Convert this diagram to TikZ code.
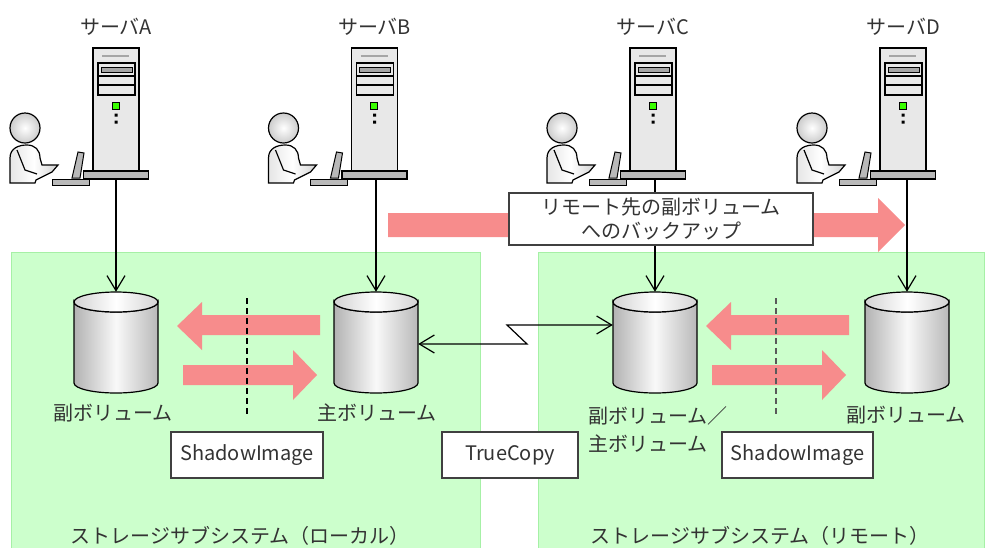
\documentclass[tikz,border=0pt]{standalone}
\usepackage{fontspec}
\setmainfont{Noto Sans CJK JP}
\usetikzlibrary{arrows.meta,positioning}

\definecolor{copyred}{HTML}{F78C8C}
\definecolor{boxgreen}{HTML}{CCFFCC}
\definecolor{boxedge}{HTML}{A6F0A6}
\definecolor{txtgray}{HTML}{333333}

\begin{document}
\begin{tikzpicture}[
    x=1pt, y=-1pt,
    >={Straight Barb[length=15pt,width=18pt]},
    every node/.style={font=\fontsize{20}{24}\selectfont, text=txtgray, inner sep=0pt},
    site/.style={fill=boxgreen, draw=boxedge, line width=1pt},
    fat/.style={fill=copyred},
    link/.style={line width=1.2pt},
    split/.style={line width=1.3pt, dash pattern=on 6pt off 4pt},
    tag/.style={draw=black!75, fill=white, line width=1.5pt, minimum height=46pt},
    vol/.style={minimum width=84pt, minimum height=101pt},
    baseplate/.style={draw, fill=gray!55, line width=1.2pt, minimum width=65pt, minimum height=8pt},
    pics/server/.style={code={
      % tower
      \filldraw[fill=gray!18, line width=1.3pt] (-23,-123) rectangle (23,0);
      \draw[gray!70, line width=1.5pt] (-14,-115) -- (13,-115);
      \draw[line width=1.3pt] (-18,-108) rectangle (19,-76)
        (-18,-95) -- (19,-95) (-18,-86) -- (19,-86);
      \filldraw[fill=gray!70, line width=1pt] (-15,-104) rectangle (16,-99);
      \filldraw[fill=green!70!lime, line width=1pt] (-4,-69) rectangle (3,-62);
      \fill (-1.5,-57.5) rectangle (1.5,-54.5) (-1.5,-50.5) rectangle (1.5,-47.5);
      \node[baseplate] (-base) at (0,4) {};
      % laptop
      \filldraw[fill=gray!55, line width=1pt] (-38,-19) -- (-32,-18) -- (-36,7) -- (-44,7) -- cycle;
      \filldraw[fill=gray!55, line width=1pt] (-64,8) rectangle (-27,14);
      % user
      \begin{scope}[shift={(-91,-43)}, line width=1.2pt]
        \shadedraw[inner color=white, outer color=gray!40] (0,0) circle[radius=15];
        \shadedraw[left color=gray!20, right color=gray!35, middle color=white]
          (-15,55) -- (-15,30) .. controls (-15,20) and (-6,17) .. (2,17)
          .. controls (10,17) and (15,22) .. (15,30) -- (17,37) -- (33,37)
          -- (27,44) -- (11,52) -- (10,55) -- cycle;
        \draw (-8,22) -- (0,42) -- (12,46);
      \end{scope}
      \node (-name) at (0,-144) {サーバ#1};
    }},
    pics/volume/.style={code={
      \shadedraw[left color=gray!60, right color=gray!55, middle color=gray!5, line width=1.2pt]
        (-42,-40.5) -- (-42,40.5) arc[start angle=180, end angle=0, x radius=42, y radius=10]
        -- (42,-40.5) arc[start angle=0, end angle=180, x radius=42, y radius=10] -- cycle;
      \shadedraw[left color=gray!35, right color=gray!35, middle color=white, line width=1.2pt]
        (0,-40.5) ellipse[x radius=42, y radius=10];
    }},
    pics/copypair/.style={code={
      \fill[fat] (73,-35) -- (-45,-35) -- (-45,-48) -- (-70,-24) -- (-45,0) -- (-45,-15) -- (73,-15) -- cycle;
      \fill[fat] (-64,15) -- (46,15) -- (46,0) -- (70,25) -- (46,50) -- (46,35) -- (-64,35) -- cycle;
      \draw[split, #1] (0,-52) -- (0,65);
    }}
    ]
    \useasboundingbox (0,0) rectangle (987,547);

    % storage subsystems
    \path[site] (11,252) rectangle (480,560);
    \path[site] (538,252) rectangle (984,560);

    % backup to the remote side
    \fill[fat] (388,213) -- (878,213) -- (878,198) -- (905,225) -- (878,252) -- (878,237) -- (388,237) -- cycle;

    % hosts
    \pic (A) at (116,171) {server=A};
    \pic (B) at (374.5,171) {server=B};
    \pic (C) at (653,171) {server=C};
    \pic (D) at (903,171) {server=D};

    % volumes
    \node[vol] (volA) at (116,342.5) {};
    \node[vol] (volB) at (376,342.5) {};
    \node[vol] (volC) at (655,342.5) {};
    \node[vol] (volD) at (907,342.5) {};
    \foreach \v in {volA,volB,volC,volD}
      \pic at (\v) {volume};

    \foreach \s/\v in {A/volA,B/volB,C/volC,D/volD}
      \draw[link,->] (\v.north |- \s-base.south) -- (\v.north);

    \node[tag, minimum width=304pt, minimum height=52pt, align=center, line width=1.2pt]
      (note) at (661,219) {リモート先の副ボリューム\\へのバックアップ};

    % local and remote copy pairs
    \pic at (247,350) {copypair=black};
    \pic at (776,350) {copypair=black!65};

    \node (lblA) at (113,413) {副ボリューム};
    \node (lblB) at (377,413) {主ボリューム};
    \node[anchor=west, align=left] (lblC) at (588,429) {副ボリューム／\\[4pt]主ボリューム};
    \node (lblD) at (906,415) {副ボリューム};

    \node[tag, minimum width=152pt] (siL) at (247,455) {ShadowImage};
    \node[tag, minimum width=136pt] (tc) at (510,455) {TrueCopy};
    \node[tag, minimum width=151pt] (siR) at (797.5,455) {ShadowImage};

    % remote copy link
    \coordinate (jogA) at (527,344);
    \coordinate (jogB) at (507,325);
    \draw[link,<->] (volB.east |- jogA) -- (jogA) -- (jogB) -- (volC.west |- jogB);

    \node (siteL) at (240,536) {ストレージサブシステム（ローカル）};
    \node (siteR) at (760,536) {ストレージサブシステム（リモート）};
\end{tikzpicture}
\end{document}
